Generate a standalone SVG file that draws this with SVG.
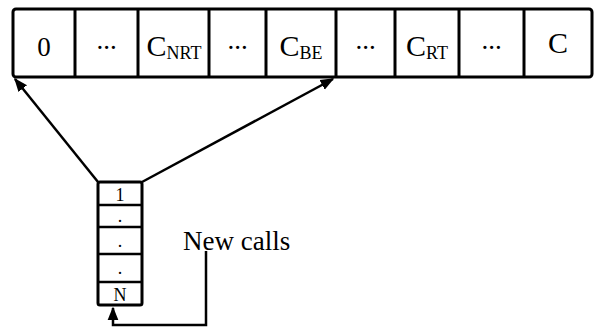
<svg xmlns="http://www.w3.org/2000/svg" width="597" height="333" viewBox="0 0 597 333">
  <style>
    .box { fill: #fff; stroke: #000; stroke-width: 3; }
    .div { stroke: #000; stroke-width: 3; }
    .qdiv { stroke: #000; stroke-width: 2.5; }
    .lbl { font-family: "Liberation Serif", "Times New Roman", serif; font-size: 30px; fill: #000; text-anchor: middle; }
    .dig { font-size: 27px; }
    .sub { font-size: 18px; }
    .ql { font-family: "Liberation Serif", "Times New Roman", serif; font-size: 18px; fill: #000; text-anchor: middle; }
    .cap { font-family: "Liberation Serif", "Times New Roman", serif; font-size: 27px; fill: #000; }
    .wire { fill: none; stroke: #000; stroke-width: 2.5; }
  </style>
  <defs>
    <marker id="head" viewBox="0 0 10 10" refX="9" refY="5" markerWidth="5.5" markerHeight="5.5" orient="auto" markerUnits="strokeWidth">
      <path d="M0,1 L10,5 L0,9 Z" fill="#000"/>
    </marker>
  </defs>
  <rect width="597" height="333" fill="#fff"/>

  <!-- channel array -->
  <g id="channels">
    <rect class="box" x="13" y="9" width="579" height="68" rx="3"/>
    <line class="div" x1="75" y1="9" x2="75" y2="77"/>
    <line class="div" x1="138" y1="9" x2="138" y2="77"/>
    <line class="div" x1="209" y1="9" x2="209" y2="77"/>
    <line class="div" x1="266" y1="9" x2="266" y2="77"/>
    <line class="div" x1="336" y1="9" x2="336" y2="77"/>
    <line class="div" x1="395" y1="9" x2="395" y2="77"/>
    <line class="div" x1="459" y1="9" x2="459" y2="77"/>
    <line class="div" x1="524" y1="9" x2="524" y2="77"/>
    <text class="lbl dig" x="44" y="56">0</text>
    <text class="lbl dig" x="106.5" y="49">...</text>
    <text class="lbl" x="174" y="56">C<tspan class="sub" dy="3">NRT</tspan></text>
    <text class="lbl dig" x="237.5" y="49">...</text>
    <text class="lbl" x="301" y="56">C<tspan class="sub" dy="3">BE</tspan></text>
    <text class="lbl dig" x="365.5" y="49">...</text>
    <text class="lbl" x="427" y="56">C<tspan class="sub" dy="3">RT</tspan></text>
    <text class="lbl dig" x="491.5" y="49">...</text>
    <text class="lbl" x="558" y="53">C</text>
  </g>

  <!-- waiting queue -->
  <g id="queue">
    <rect class="box" x="98" y="182" width="44" height="123" rx="2"/>
    <line class="qdiv" x1="98" y1="205" x2="142" y2="205"/>
    <line class="qdiv" x1="98" y1="227" x2="142" y2="227"/>
    <line class="qdiv" x1="98" y1="254" x2="142" y2="254"/>
    <line class="qdiv" x1="98" y1="282" x2="142" y2="282"/>
    <text class="ql" x="120" y="201">1</text>
    <text class="ql" x="120" y="222">.</text>
    <text class="ql" x="120" y="247">.</text>
    <text class="ql" x="120" y="274">.</text>
    <text class="ql" x="120" y="301">N</text>
  </g>

  <!-- arrival label -->
  <g id="new-calls">
    <text class="cap" x="183" y="250">New calls</text>
  </g>

  <!-- connectors -->
  <g id="connectors">
    <line class="wire" x1="98" y1="182" x2="15" y2="79" marker-end="url(#head)"/>
    <line class="wire" x1="142" y1="182" x2="333" y2="79" marker-end="url(#head)"/>
    <polyline class="wire" points="206,251 206,325 113,325 113,308" marker-end="url(#head)"/>
  </g>
</svg>
